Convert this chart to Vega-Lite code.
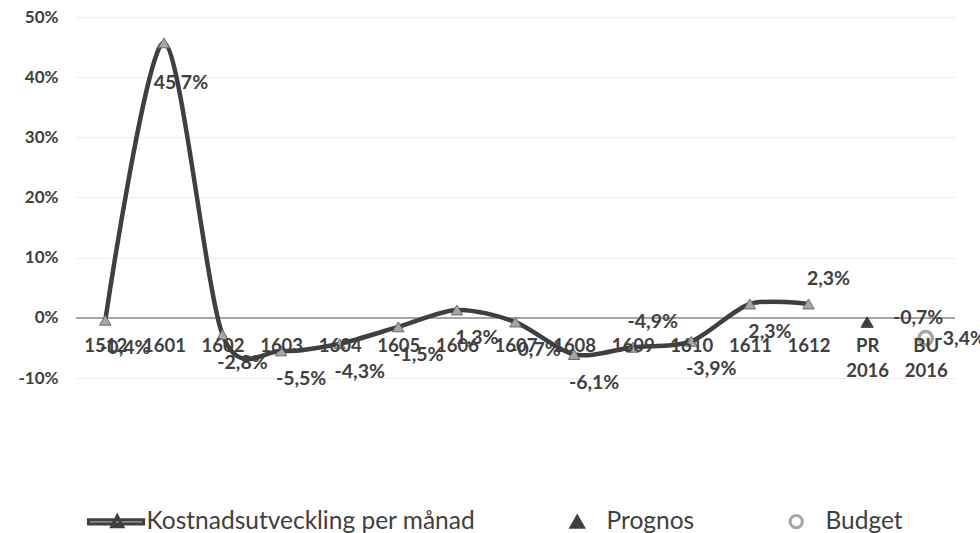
{
  "$schema": "https://vega.github.io/schema/vega-lite/v6.json",
  "width": 879,
  "height": 361,
  "autosize": {"type": "none"},
  "padding": {"left": 76, "top": 17, "right": 25, "bottom": 155},
  "background": "white",
  "data": {
    "values": [
      {"month": "1512", "value": -0.004, "series": "Kostnadsutveckling per månad"},
      {"month": "1601", "value": 0.457, "series": "Kostnadsutveckling per månad"},
      {"month": "1602", "value": -0.028, "series": "Kostnadsutveckling per månad"},
      {"month": "1603", "value": -0.055, "series": "Kostnadsutveckling per månad"},
      {"month": "1604", "value": -0.043, "series": "Kostnadsutveckling per månad"},
      {"month": "1605", "value": -0.015, "series": "Kostnadsutveckling per månad"},
      {"month": "1606", "value": 0.013, "series": "Kostnadsutveckling per månad"},
      {"month": "1607", "value": -0.007, "series": "Kostnadsutveckling per månad"},
      {"month": "1608", "value": -0.061, "series": "Kostnadsutveckling per månad"},
      {"month": "1609", "value": -0.049, "series": "Kostnadsutveckling per månad"},
      {"month": "1610", "value": -0.039, "series": "Kostnadsutveckling per månad"},
      {"month": "1611", "value": 0.023, "series": "Kostnadsutveckling per månad"},
      {"month": "1612", "value": 0.023, "series": "Kostnadsutveckling per månad"},
      {"month": "PR 2016", "value": -0.007, "series": "Prognos"},
      {"month": "BU 2016", "value": -0.034, "series": "Budget"}
    ]
  },
  "encoding": {
    "x": {
      "field": "month", "type": "nominal", "sort": null,
      "scale": {"type": "point", "padding": 0.5},
      "axis": {
        "title": null, "labelAngle": 0, "domain": false, "ticks": false, "grid": false,
        "offset": -60, "labelPadding": 18, "labelFontSize": 18.5, "labelFontWeight": "bold",
        "labelColor": "#404040", "labelFont": "Lato",
        "labelExpr": "split(datum.label, ' ')", "labelLineHeight": 25, "labelBaseline": "top",
        "zindex": 1
      }
    },
    "y": {
      "field": "value", "type": "quantitative",
      "scale": {"domain": [-0.1, 0.5], "nice": false},
      "axis": {
        "title": null, "values": [-0.1, 0, 0.1, 0.2, 0.3, 0.4, 0.5], "format": ".0%",
        "domain": false, "ticks": false, "labelFontSize": 17, "labelFontWeight": "bold",
        "labelColor": "#404040", "labelFont": "Lato", "labelPadding": 18,
        "gridColor": "#eeeeee", "gridWidth": 1
      }
    }
  },
  "layer": [
    {
      "mark": {"type": "rule", "color": "#a6a6a6", "strokeWidth": 1.5},
      "encoding": {"y": {"datum": 0}, "x": null}
    },
    {
      "transform": [{"filter": "datum.series === 'Kostnadsutveckling per månad'"}],
      "mark": {"type": "line", "interpolate": "cardinal", "tension": 0.15, "color": "#3f3f3f", "strokeWidth": 4.5}
    },
    {
      "transform": [{"filter": "datum.series === 'Kostnadsutveckling per månad'"}],
      "mark": {"type": "point", "shape": "triangle-up", "filled": true, "fill": "#a6a6a6", "stroke": "#6b6b6b", "strokeWidth": 1, "size": 130, "opacity": 1}
    },
    {
      "transform": [{"filter": "datum.series === 'Prognos'"}],
      "mark": {"type": "point", "shape": "triangle-up", "filled": true, "fill": "#404040", "stroke": "#404040", "strokeWidth": 1, "size": 150, "opacity": 1}
    },
    {
      "transform": [{"filter": "datum.series === 'Budget'"}],
      "mark": {"type": "point", "shape": "circle", "filled": false, "stroke": "#a6a6a6", "strokeWidth": 3.5, "size": 180, "opacity": 1}
    },
    {
      "transform": [{"filter": "indexof(['1512','1602','1603','1604','1605','1606','1607','1608','1610','1611'], datum.month) >= 0"}],
      "mark": {"type": "text", "dx": 20, "dy": 28, "fontSize": 19.5, "fontWeight": "bold", "font": "Lato", "fill": "#404040"},
      "encoding": {"text": {"field": "value", "type": "quantitative", "format": ".1%"}}
    },
    {
      "transform": [{"filter": "datum.month === '1601'"}],
      "mark": {"type": "text", "dx": 17, "dy": 40, "fontSize": 19.5, "fontWeight": "bold", "font": "Lato", "fill": "#404040"},
      "encoding": {"text": {"field": "value", "type": "quantitative", "format": ".1%"}}
    },
    {
      "transform": [{"filter": "datum.month === '1609' || datum.month === '1612'"}],
      "mark": {"type": "text", "dx": 20, "dy": -25, "fontSize": 19.5, "fontWeight": "bold", "font": "Lato", "fill": "#404040"},
      "encoding": {"text": {"field": "value", "type": "quantitative", "format": ".1%"}}
    },
    {
      "transform": [{"filter": "datum.series === 'Prognos'"}],
      "mark": {"type": "text", "dx": 51, "dy": -4, "fontSize": 19.5, "fontWeight": "bold", "font": "Lato", "fill": "#404040"},
      "encoding": {"text": {"field": "value", "type": "quantitative", "format": ".1%"}}
    },
    {
      "transform": [{"filter": "datum.series === 'Budget'"}],
      "mark": {"type": "text", "dx": 35, "dy": 1, "fontSize": 19.5, "fontWeight": "bold", "font": "Lato", "fill": "#404040"},
      "encoding": {"text": {"field": "value", "type": "quantitative", "format": ".1%"}}
    },
    {
      "mark": {"type": "point", "opacity": 0, "size": 150, "filled": true},
      "encoding": {
        "shape": {
          "field": "series", "type": "nominal",
          "scale": {
            "domain": ["Kostnadsutveckling per månad", "Prognos", "Budget"],
            "range": ["M-4.7,-0.35L4.3,-0.35L4.3,0.35L-4.7,0.35Z M-0.9,0.8L0,-1L0.9,0.8Z", "triangle-up", "circle"]
          },
          "legend": {"title": null, "orient": "none", "legendX": 29, "legendY": 492, "direction": "horizontal", "symbolOpacity": 1, "symbolSize": 150, "symbolStrokeWidth": 3, "labelFontSize": 24.5, "labelFont": "Lato", "labelColor": "#404040", "labelOffset": 17, "labelLimit": 0, "columnPadding": 89, "padding": 0}
        },
        "fill": {
          "field": "series", "type": "nominal",
          "scale": {"domain": ["Kostnadsutveckling per månad", "Prognos", "Budget"], "range": ["#a6a6a6", "#404040", "#ffffff"]},
          "legend": {"title": null, "orient": "none", "legendX": 29, "legendY": 492, "direction": "horizontal", "symbolOpacity": 1, "symbolSize": 150, "symbolStrokeWidth": 3, "labelFontSize": 24.5, "labelFont": "Lato", "labelColor": "#404040", "labelOffset": 17, "labelLimit": 0, "columnPadding": 89, "padding": 0}
        },
        "stroke": {
          "field": "series", "type": "nominal",
          "scale": {"domain": ["Kostnadsutveckling per månad", "Prognos", "Budget"], "range": ["#3f3f3f", "#404040", "#a6a6a6"]},
          "legend": {"title": null, "orient": "none", "legendX": 29, "legendY": 492, "direction": "horizontal", "symbolOpacity": 1, "symbolSize": 150, "symbolStrokeWidth": 3, "labelFontSize": 24.5, "labelFont": "Lato", "labelColor": "#404040", "labelOffset": 17, "labelLimit": 0, "columnPadding": 89, "padding": 0}
        }
      }
    }
  ],
  "config": {
    "font": "Lato",
    "view": {"stroke": null},
    "locale": {
      "number": {"decimal": ",", "thousands": " ", "grouping": [3], "currency": ["", " kr"], "minus": "-", "percent": "%"}
    }
  }
}
